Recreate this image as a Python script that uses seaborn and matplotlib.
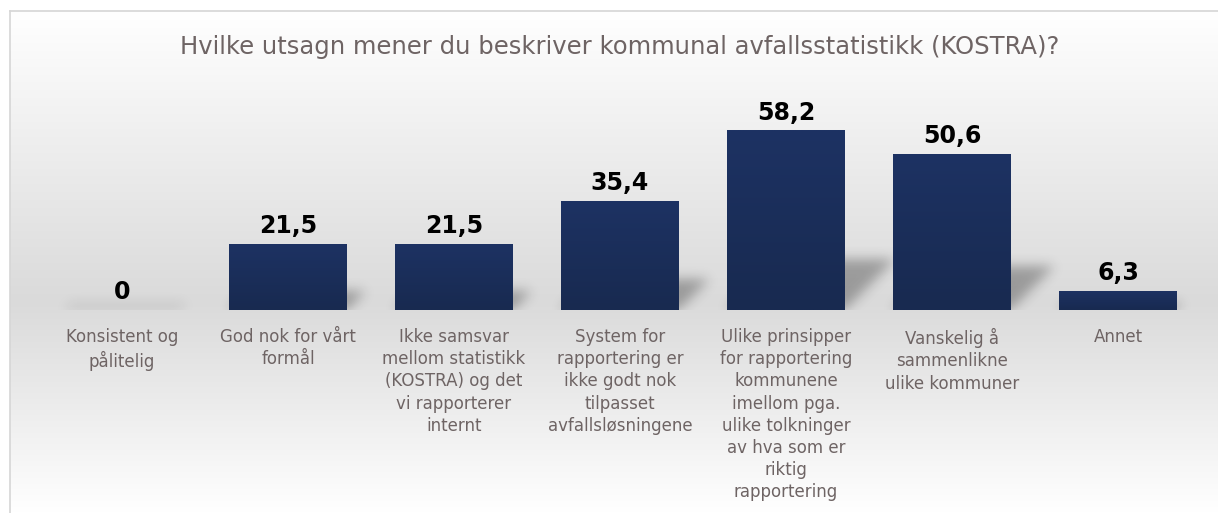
import numpy as np
import pandas as pd
import matplotlib
matplotlib.use("Agg")
import matplotlib.pyplot as plt
import seaborn as sns
from matplotlib.colors import LinearSegmentedColormap

# data
categories = [
    "Konsistent og\npålitelig",
    "God nok for vårt\nformål",
    "Ikke samsvar\nmellom statistikk\n(KOSTRA) og det\nvi rapporterer\ninternt",
    "System for\nrapportering er\nikke godt nok\ntilpasset\navfallsløsningene",
    "Ulike prinsipper\nfor rapportering\nkommunene\nimellom pga.\nulike tolkninger\nav hva som er\nriktig\nrapportering",
    "Vanskelig å\nsammenlikne\nulike kommuner",
    "Annet",
]
values = [0, 21.5, 21.5, 35.4, 58.2, 50.6, 6.3]
value_labels = ["0", "21,5", "21,5", "35,4", "58,2", "50,6", "6,3"]
title = "Hvilke utsagn mener du beskriver kommunal avfallsstatistikk (KOSTRA)?"

bar_top = "#1d3263"
bar_bottom = "#182a50"
text_color = "#6e6464"

sns.set_style("white")
plt.rcParams["font.family"] = ["DejaVu Sans"]

W, H = 1218, 513
fig = plt.figure(figsize=(W / 100, H / 100), dpi=100)
fig.patch.set_facecolor("white")

# gradient panel behind the chart
bg = fig.add_axes([10 / W, 0, 1 - 10 / W, 502 / H], zorder=0)
cmap = LinearSegmentedColormap.from_list(
    "panel", [(0, "#ffffff"), (0.58, "#dadada"), (1, "#ffffff")])
grad = np.linspace(0, 1, 256).reshape(-1, 1)
bg.imshow(grad, cmap=cmap, aspect="auto", extent=[0, 1, 0, 1], origin="upper")
bg.set_xticks([])
bg.set_yticks([])
for side in ["right", "bottom"]:
    bg.spines[side].set_visible(False)
for side in ["left", "top"]:
    bg.spines[side].set_color("#d6d6d6")
    bg.spines[side].set_linewidth(1.2)

ax = fig.add_axes([39 / W, 203 / H, 1162 / W, 210 / H], zorder=1)
ax.set_facecolor("none")

df = pd.DataFrame({"kategori": categories, "verdi": values})
bw = 0.71
sns.barplot(data=df, x="kategori", y="verdi", color=bar_bottom, width=bw,
            saturation=1, linewidth=0, ax=ax, zorder=3)

ymax = 68
# slight vertical gradient on each bar
bar_cmap = LinearSegmentedColormap.from_list("bar", [bar_bottom, bar_top])
for p in ax.patches:
    x0, y0 = p.get_x(), p.get_y()
    w, h = p.get_width(), p.get_height()
    if h <= 0:
        continue
    im = ax.imshow(np.linspace(0, 1, 64).reshape(-1, 1), cmap=bar_cmap,
                   aspect="auto", extent=[x0, x0 + w, y0, y0 + h],
                   origin="lower", zorder=3.5)
    im.set_clip_path(p)

# soft shadow behind each bar (rasterised, blurred)
nx, ny = 1162, 210
xs = np.linspace(-0.5, len(values) - 0.5, nx)
ys = np.linspace(0, ymax, ny)
X, Y = np.meshgrid(xs, ys)
mask = np.zeros_like(X)
px_per_unit_x = nx / len(values)
px_per_unit_y = ny / ymax
for i, v in enumerate(values):
    sh = max(0.28 * v, 2.0)
    d = sh * px_per_unit_y / px_per_unit_x
    xl, xr = i - bw / 2, i + bw / 2
    t = np.clip(Y / sh, 0, 1)
    inside = (Y <= sh) & (X >= xl + d * t) & (X <= xr + d * t)
    strength = 1.0 if v > 0 else 0.35
    mask = np.maximum(mask, inside * strength)

sigma = 6
k = np.arange(-20, 21)
kern = np.exp(-k ** 2 / (2 * sigma ** 2))
kern /= kern.sum()
blur = np.apply_along_axis(lambda r: np.convolve(r, kern, mode="same"), 1, mask)
blur = np.apply_along_axis(lambda c: np.convolve(c, kern, mode="same"), 0, blur)
rgba = np.zeros((ny, nx, 4))
rgba[..., 3] = blur * 0.3
ax.imshow(rgba, extent=[xs[0], xs[-1], 0, ymax], origin="lower",
          aspect="auto", zorder=2, interpolation="bilinear")

ax.bar_label(ax.containers[0], labels=value_labels, padding=4,
             fontsize=17, fontweight="bold", color="black")

ax.set_xlim(-0.5, len(categories) - 0.5)
ax.set_ylim(0, ymax)
ax.set_xlabel("")
ax.set_ylabel("")
ax.set_yticks([])
ax.set_xticks(range(len(categories)))
ax.set_xticklabels(categories, fontsize=12, color=text_color, linespacing=1.3)
ax.tick_params(axis="x", length=0, pad=13)
sns.despine(ax=ax, left=True, bottom=True)

fig.text(620 / W, 1 - 47 / H, title, ha="center", va="center",
         fontsize=17.5, color=text_color)

fig.savefig("out.png", dpi=100)
